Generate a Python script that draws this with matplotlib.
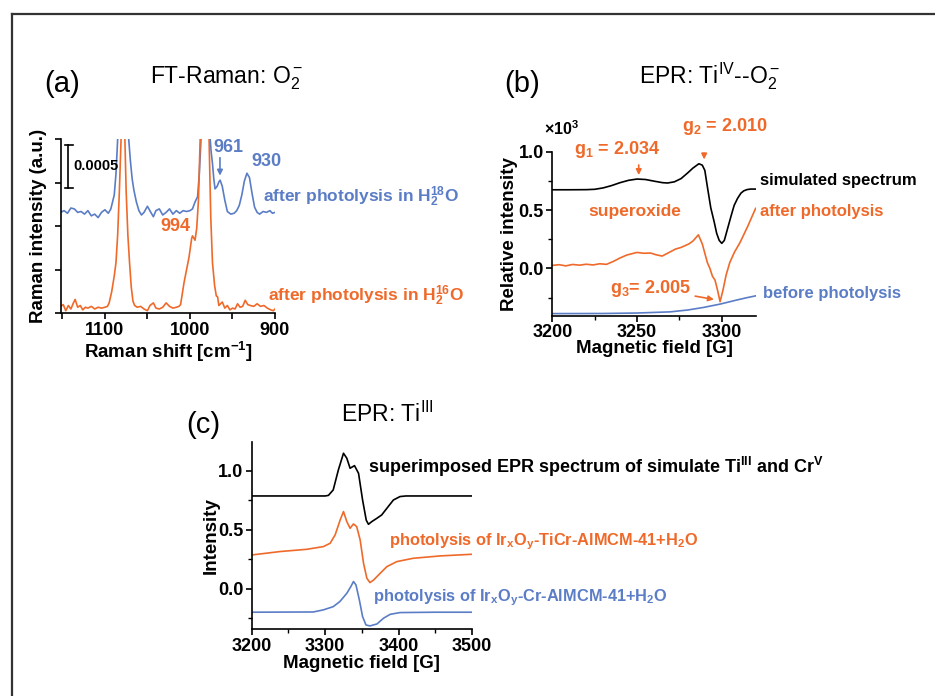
import matplotlib
matplotlib.use("Agg")
import matplotlib.pyplot as plt
from matplotlib.lines import Line2D
from matplotlib.ticker import MultipleLocator, FormatStrFormatter, NullFormatter

plt.rcParams['font.family'] = ['Liberation Sans', 'DejaVu Sans']
plt.rcParams['font.weight'] = 'bold'
plt.rcParams['axes.labelweight'] = 'bold'
plt.rcParams['mathtext.fontset'] = 'custom'
plt.rcParams['mathtext.rm'] = 'Liberation Sans:weight=normal'
plt.rcParams['mathtext.bf'] = 'Liberation Sans:bold'
plt.rcParams['mathtext.it'] = 'Liberation Sans:italic'

ORANGE = '#EF6A2A'
BLUE = '#5B7DC6'

# ---- (a) FT-Raman, intensity in units of 1e-4 (a.u.)
raman_18O_x = [1152, 1148, 1144, 1140, 1136, 1132, 1128, 1124, 1120, 1116, 1112, 1108, 1104,
               1100, 1096, 1093, 1091, 1089, 1087, 1085, 1083, 1079, 1075, 1072, 1070, 1068,
               1066, 1063, 1060, 1057, 1054, 1050, 1046, 1043, 1040, 1036, 1032, 1028, 1024,
               1020, 1016, 1012, 1008, 1004, 1000, 997, 994, 991, 989, 987, 983, 979, 977,
               975, 973.5, 972, 970.5, 968, 966, 964.5, 962, 959, 956, 952, 948, 945, 942,
               939, 936, 933, 930, 927, 924, 921, 918, 914, 910, 906, 903, 900]
raman_18O_y = [11.6, 11.8, 11.5, 12.1, 12.0, 11.6, 11.7, 11.4, 11.8, 11.2, 11.4, 11.0, 11.6,
               11.9, 11.5, 12.0, 12.8, 13.6, 16.0, 20.0, 24.0, 28.0, 28.0, 20.0, 17.5, 15.5,
               14.2, 12.8, 11.8, 11.3, 11.6, 12.3, 11.6, 11.1, 11.8, 12.0, 11.3, 11.6, 12.0,
               11.4, 11.8, 11.5, 11.8, 11.7, 11.8, 12.0, 12.8, 13.4, 16.0, 20.0, 28.0, 28.0,
               21.0, 18.5, 17.2, 15.5, 14.3, 14.6, 15.1, 15.3, 14.6, 13.0, 11.7, 11.4, 11.5,
               11.8, 12.4, 13.6, 15.2, 16.1, 15.6, 13.8, 12.2, 11.6, 11.4, 11.7, 11.6, 11.8,
               11.5, 11.6]

raman_16O_x = [1152, 1149, 1146, 1143, 1140, 1137, 1135, 1132, 1129, 1126, 1123, 1120, 1116,
               1112, 1108, 1104, 1100, 1097, 1095, 1092, 1089, 1087, 1085, 1083, 1081, 1080,
               1077, 1075, 1073, 1071, 1069, 1067, 1065, 1062, 1058, 1054, 1050, 1047, 1043,
               1040, 1036, 1032, 1028, 1024, 1020, 1016, 1013, 1011, 1007, 1004, 1001, 998,
               997, 994, 992, 990, 988, 986, 980, 977.5, 975.5, 973.5, 971, 969, 967.5, 966,
               962, 959, 956, 953, 950, 947, 944, 941, 938, 935, 932, 929, 925, 921, 917, 913,
               909, 905, 902, 900]
raman_16O_y = [0.8, 1.0, 0.3, 0.9, 0.5, 1.2, 1.6, 0.7, 0.9, 0.4, 0.7, 0.6, 0.8,
               0.5, 0.7, 0.6, 0.7, 0.8, 1.2, 2.5, 4.3, 5.8, 9.0, 14.0, 20.0, 25.0,
               22.0, 14.0, 9.0, 5.8, 3.0, 1.4, 0.9, 0.7, 0.8, 0.5, 0.3, 0.9, 1.2,
               0.6, 0.5, 0.7, 1.2, 0.8, 0.6, 0.7, 0.8, 1.0, 3.5, 5.0, 6.5, 8.6,
               8.9, 8.4, 9.8, 13.0, 20.0, 28.0, 28.0, 20.0, 11.0, 5.8, 3.2, 2.0, 1.9, 0.9,
               1.3, 0.6, 0.9, 0.4, 0.6, 0.5, 1.1, 0.7, 0.8, 1.5, 1.0, 0.9, 0.8, 1.1, 0.8, 0.9,
               0.6, 0.4, 0.3, 0.5]

# ---- (b) EPR Ti(IV)-O2-
epr_b_sim_x = [3200, 3210, 3220, 3225, 3230, 3235, 3240, 3245, 3250, 3255, 3260, 3265, 3268,
               3272, 3276, 3280, 3283, 3286.5, 3288.5, 3290, 3291.5, 3293.5, 3295.5, 3297, 3298.5,
               3300, 3301.5, 3303.4, 3305.5, 3307.3, 3309.3, 3311.3, 3313, 3315, 3317, 3320]
epr_b_sim_y = [0.674, 0.674, 0.675, 0.678, 0.69, 0.71, 0.735, 0.755, 0.766, 0.762, 0.748, 0.735, 0.732,
               0.742, 0.77, 0.82, 0.86, 0.897, 0.885, 0.84, 0.70, 0.52, 0.40, 0.30, 0.24,
               0.215, 0.24, 0.34, 0.45, 0.54, 0.60, 0.645, 0.665, 0.676, 0.68, 0.68]

epr_b_after_x = [3200, 3204, 3208, 3212, 3216, 3220, 3224, 3228, 3232, 3236, 3240, 3244, 3248,
                 3250, 3254, 3258, 3261, 3264.8, 3268, 3272.7, 3276, 3280.6, 3283, 3286.2, 3288.5,
                 3290, 3291.5, 3293, 3294.5, 3296, 3297.4, 3299, 3300.8, 3302.5, 3304.7, 3307.5,
                 3310.7, 3313, 3315.6, 3318, 3320]
epr_b_after_y = [0.026, 0.032, 0.022, 0.034, 0.028, 0.036, 0.03, 0.04, 0.035, 0.06, 0.09, 0.115, 0.13,
                 0.137, 0.13, 0.132, 0.118, 0.106, 0.13, 0.166, 0.18, 0.21, 0.235, 0.288, 0.21,
                 0.13, 0.05, 0.0, -0.067, -0.10, -0.18, -0.285, -0.18, -0.06, 0.05, 0.14,
                 0.22, 0.29, 0.37, 0.45, 0.515]

epr_b_before_x = [3200, 3230, 3250, 3269.6, 3280, 3289.3, 3299.2, 3309, 3315, 3320]
epr_b_before_y = [-0.387, -0.386, -0.382, -0.372, -0.356, -0.334, -0.305, -0.27, -0.25, -0.235]

# ---- (c) EPR Ti(III)
epr_c_sim_x = [3200, 3250, 3300, 3304.5, 3311, 3318, 3325, 3329.5, 3334, 3340, 3345.5, 3351,
               3356, 3359, 3363.6, 3370.5, 3377, 3384, 3393, 3402, 3410, 3450, 3500]
epr_c_sim_y = [0.785, 0.785, 0.785, 0.79, 0.836, 1.005, 1.147, 1.105, 1.02, 1.042, 0.977, 0.751,
               0.58, 0.545, 0.568, 0.596, 0.624, 0.68, 0.751, 0.78, 0.785, 0.785, 0.785]

epr_c_ticr_x = [3200, 3238.6, 3275, 3297.7, 3306.8, 3313.6, 3320.5, 3325, 3329.5, 3334, 3338.6,
                3343, 3347.7, 3352.3, 3356.8, 3361, 3366, 3375, 3384, 3397.7, 3420, 3456.8, 3500]
epr_c_ticr_y = [0.285, 0.314, 0.333, 0.356, 0.384, 0.455, 0.582, 0.653, 0.568, 0.511, 0.548,
                0.525, 0.412, 0.215, 0.088, 0.051, 0.073, 0.13, 0.186, 0.229, 0.257, 0.277, 0.291]

epr_c_cr_x = [3200, 3284, 3297.7, 3311, 3320, 3329.5, 3335, 3338.6, 3342, 3346.6, 3351, 3355.6,
              3361, 3370.5, 3379.5, 3388.6, 3402, 3450, 3500]
epr_c_cr_y = [-0.2, -0.198, -0.18, -0.153, -0.11, -0.04, 0.017, 0.06, 0.031, -0.096, -0.237, -0.308,
              -0.316, -0.3, -0.251, -0.218, -0.203, -0.2, -0.2]

LW = 1.2
TXT = 12


def style_axes(ax):
    for side in ['top', 'right']:
        ax.spines[side].set_visible(False)
    for side in ['left', 'bottom']:
        ax.spines[side].set_linewidth(1.2)
    ax.tick_params(which='major', direction='out', length=4, width=1.2, labelsize=13, pad=2)
    ax.tick_params(which='minor', direction='out', length=3, width=1.0)


fig = plt.figure(figsize=(9.35, 6.96), dpi=100)

# figure frame (top and left edge only, the rest is cropped)
fig.add_artist(Line2D([12 / 935, 1.0], [1 - 14 / 696, 1 - 14 / 696], transform=fig.transFigure,
                      color='#333333', linewidth=1.6))
fig.add_artist(Line2D([12 / 935, 12 / 935], [0.0, 1 - 14 / 696], transform=fig.transFigure,
                      color='#333333', linewidth=1.6))

# ================= (a)
ax1 = fig.add_axes([0.0649, 0.5498, 0.2292, 0.2501])
ax1.plot(raman_18O_x, raman_18O_y, color=BLUE, linewidth=LW)
ax1.plot(raman_16O_x, raman_16O_y, color=ORANGE, linewidth=LW)
ax1.set_xlim(1152, 900)
ax1.set_ylim(0, 20)
style_axes(ax1)
ax1.xaxis.set_major_locator(MultipleLocator(100))
ax1.xaxis.set_minor_locator(MultipleLocator(50))
ax1.yaxis.set_major_locator(MultipleLocator(5))
ax1.yaxis.set_major_formatter(NullFormatter())
ax1.tick_params(which='minor', length=4, width=1.2)
ax1.set_xlabel(r'Raman shift [cm$^{\mathbf{-1}}$]', fontsize=13.5)
ax1.set_ylabel('Raman intensity (a.u.)', fontsize=13.5)
ax1.xaxis.set_label_coords(0.5, -0.153)
ax1.yaxis.set_label_coords(-0.0653, 0.5)

# scale bar = 0.0005
ax1.plot([1143.3, 1143.3], [14.4, 19.35], color='black', linewidth=1.2)
ax1.plot([1147.1, 1137.4], [19.35, 19.35], color='black', linewidth=1.2)
ax1.plot([1147.1, 1137.4], [14.4, 14.4], color='black', linewidth=1.2)
ax1.text(1136.5, 16.9, '0.0005', fontsize=10.5, ha='left', va='center')

ax1.text(954.6, 19.1, '961', color=BLUE, fontsize=TXT + 1, ha='center', va='center', clip_on=False)
ax1.annotate('', xy=(964.7, 15.5), xytext=(964.7, 18.2),
             arrowprops=dict(arrowstyle='-|>', color=BLUE, lw=1.2, mutation_scale=8))
ax1.text(910.2, 17.4, '930', color=BLUE, fontsize=TXT + 1, ha='center', va='center', clip_on=False)
ax1.text(1017.3, 9.95, '994', color=ORANGE, fontsize=TXT + 1, ha='center', va='center')
ax1.text(913.7, 13.4, r'after photolysis in H$_\mathbf{2}^\mathbf{18}$O', color=BLUE,
         fontsize=TXT + 0.5, ha='left', va='center', clip_on=False)
ax1.text(907.8, 2.0, r'after photolysis in H$_\mathbf{2}^\mathbf{16}$O', color=ORANGE,
         fontsize=TXT + 0.5, ha='left', va='center', clip_on=False)

fig.text(0.066, 0.8683, '(a)', fontsize=21, fontweight='normal', ha='center', va='baseline')
fig.text(0.2425, 0.8803, r'FT-Raman: O$_2^-$', fontsize=16.5, fontweight='normal',
         ha='center', va='baseline')

# ================= (b)
ax2 = fig.add_axes([0.5907, 0.5464, 0.2175, 0.2356])
ax2.plot(epr_b_sim_x, epr_b_sim_y, color='black', linewidth=LW)
ax2.plot(epr_b_after_x, epr_b_after_y, color=ORANGE, linewidth=LW)
ax2.plot(epr_b_before_x, epr_b_before_y, color=BLUE, linewidth=LW)
ax2.set_xlim(3200, 3320)
ax2.set_ylim(-0.405, 1.0)
style_axes(ax2)
ax2.xaxis.set_major_locator(MultipleLocator(50))
ax2.xaxis.set_minor_locator(MultipleLocator(25))
ax2.yaxis.set_major_locator(MultipleLocator(0.5))
ax2.yaxis.set_minor_locator(MultipleLocator(0.25))
ax2.yaxis.set_major_formatter(FormatStrFormatter('%.1f'))
ax2.set_xlabel('Magnetic field [G]', fontsize=13.5)
ax2.set_ylabel('Relative intensity', fontsize=13.5)
ax2.xaxis.set_label_coords(0.5, -0.148)
ax2.yaxis.set_label_coords(-0.167, 0.5)

ax2.text(3205.6, 1.20, r'×10$^\mathbf{3}$', fontsize=11.5, ha='center', va='center', clip_on=False)
ax2.text(3238.2, 1.015, r'g$_\mathbf{1}$ = 2.034', color=ORANGE, fontsize=TXT + 1,
         ha='center', va='center', clip_on=False)
ax2.annotate('', xy=(3251, 0.776), xytext=(3251, 0.91),
             arrowprops=dict(arrowstyle='-|>', color=ORANGE, lw=1.2, mutation_scale=8))
ax2.text(3302, 1.214, r'g$_\mathbf{2}$ = 2.010', color=ORANGE, fontsize=TXT + 1,
         ha='center', va='center', clip_on=False)
ax2.annotate('', xy=(3289.6, 0.91), xytext=(3289.6, 1.01),
             arrowprops=dict(arrowstyle='-|>', color=ORANGE, lw=1.2, mutation_scale=8),
             annotation_clip=False)
ax2.text(3248.5, 0.49, 'superoxide', color=ORANGE, fontsize=TXT + 0.5, ha='center', va='center')
ax2.text(3258, -0.176, r'g$_\mathbf{3}$= 2.005', color=ORANGE, fontsize=TXT + 1,
         ha='center', va='center')
ax2.annotate('', xy=(3297, -0.27), xytext=(3282.7, -0.233),
             arrowprops=dict(arrowstyle='-|>', color=ORANGE, lw=1.2, mutation_scale=8))
ax2.text(3322.6, 0.755, 'simulated spectrum', color='black', fontsize=TXT,
         ha='left', va='center', clip_on=False)
ax2.text(3322.6, 0.487, 'after photolysis', color=ORANGE, fontsize=TXT,
         ha='left', va='center', clip_on=False)
ax2.text(3324.2, -0.219, 'before photolysis', color=BLUE, fontsize=TXT,
         ha='left', va='center', clip_on=False)

fig.text(0.558, 0.8683, '(b)', fontsize=21, fontweight='normal', ha='center', va='baseline')
fig.text(0.7594, 0.8803, r'EPR: Ti$^{\mathrm{IV}}$--O$_2^-$', fontsize=16.5, fontweight='normal',
         ha='center', va='baseline')

# ================= (c)
ax3 = fig.add_axes([0.2692, 0.0958, 0.2356, 0.2696])
ax3.plot(epr_c_sim_x, epr_c_sim_y, color='black', linewidth=LW)
ax3.plot(epr_c_ticr_x, epr_c_ticr_y, color=ORANGE, linewidth=LW)
ax3.plot(epr_c_cr_x, epr_c_cr_y, color=BLUE, linewidth=LW)
ax3.set_xlim(3200, 3500)
ax3.set_ylim(-0.345, 1.245)
style_axes(ax3)
ax3.xaxis.set_major_locator(MultipleLocator(100))
ax3.xaxis.set_minor_locator(MultipleLocator(50))
ax3.yaxis.set_major_locator(MultipleLocator(0.5))
ax3.yaxis.set_minor_locator(MultipleLocator(0.25))
ax3.yaxis.set_major_formatter(FormatStrFormatter('%.1f'))
ax3.set_xlabel('Magnetic field [G]', fontsize=13.5)
ax3.set_ylabel('Intensity', fontsize=13.5)
ax3.xaxis.set_label_coords(0.5, -0.137)
ax3.yaxis.set_label_coords(-0.147, 0.5)

ax3.text(3358.9, 1.034, r'superimposed EPR spectrum of simulate Ti$^\mathbf{III}$ and Cr$^\mathbf{V}$',
         color='black', fontsize=13, ha='left', va='center', clip_on=False)
ax3.text(3387, 0.398, r'photolysis of Ir$_\mathbf{x}$O$_\mathbf{y}$-TiCr-AlMCM-41+H$_\mathbf{2}$O',
         color=ORANGE, fontsize=TXT - 0.2, ha='left', va='center', clip_on=False)
ax3.text(3365.7, -0.081, r'photolysis of Ir$_\mathbf{x}$O$_\mathbf{y}$-Cr-AlMCM-41+H$_\mathbf{2}$O',
         color=BLUE, fontsize=TXT - 0.2, ha='left', va='center', clip_on=False)

fig.text(0.2174, 0.3774, '(c)', fontsize=21, fontweight='normal', ha='center', va='baseline')
fig.text(0.4136, 0.3941, r'EPR: Ti$^{\mathrm{III}}$', fontsize=16.5, fontweight='normal',
         ha='center', va='baseline')

fig.savefig('out.png', dpi=100)
